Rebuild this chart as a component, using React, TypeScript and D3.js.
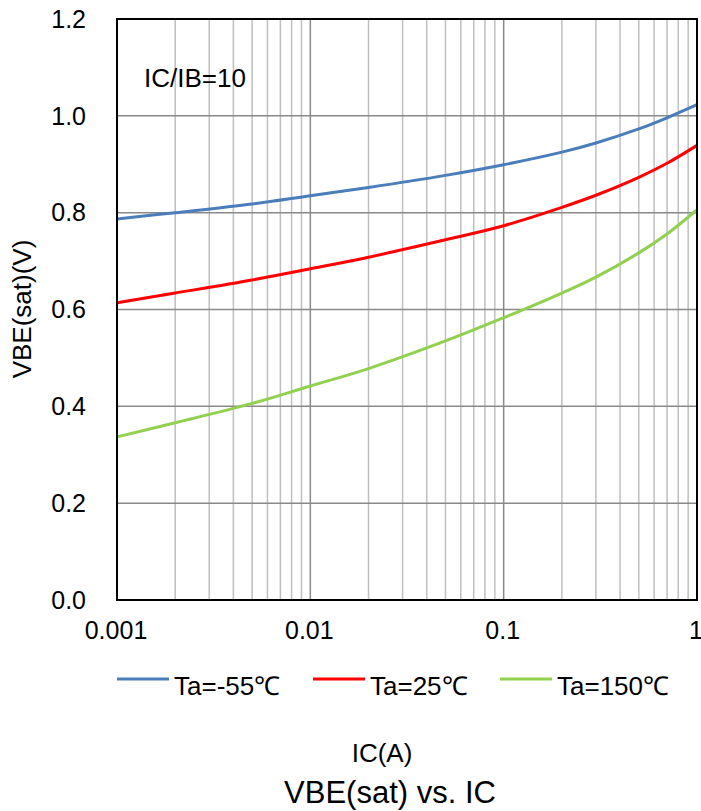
import { useEffect, useRef } from "react";
import * as d3 from "d3";

// IC (A) sample points and VBE(sat) (V)
const icValues = [0.001, 0.002, 0.005, 0.01, 0.02, 0.05, 0.1, 0.2, 0.3, 0.5, 0.7, 1];
const vbeM55 = [0.787, 0.800, 0.818, 0.835, 0.852, 0.877, 0.899, 0.925, 0.944, 0.973, 0.996, 1.023];
const vbe25 = [0.614, 0.634, 0.661, 0.684, 0.708, 0.744, 0.773, 0.811, 0.836, 0.873, 0.902, 0.939];
const vbe150 = [0.337, 0.366, 0.406, 0.442, 0.478, 0.535, 0.583, 0.634, 0.667, 0.717, 0.756, 0.806];

const seriesNames = ["Ta=-55℃", "Ta=25℃", "Ta=150℃"];
const seriesColors = ["#4a7ebb", "#ff0000", "#92d050"];
const yTicks = [0, 0.2, 0.4, 0.6, 0.8, 1.0, 1.2];
const xTicks = [0.001, 0.01, 0.1, 1];

export default function App() {
  const ref = useRef<SVGSVGElement | null>(null);
  const width = 701;
  const height = 811;
  const plot = { left: 117, right: 697, top: 19, bottom: 600 };

  useEffect(() => {
    const svg = d3.select(ref.current);
    svg.selectAll("*").remove();
    const font = "Arial, 'Liberation Sans', sans-serif";

    const x = d3.scaleLog().domain([0.001, 1]).range([plot.left, plot.right]);
    const y = d3.scaleLinear().domain([0, 1.2]).range([plot.bottom, plot.top]);

    svg.append("rect").attr("width", width).attr("height", height).attr("fill", "#fff");

    // minor vertical grid
    const minor: number[] = [];
    for (let d = 0.001; d < 1; d *= 10) {
      for (let k = 2; k <= 9; k++) minor.push(d * k);
    }
    svg.append("g").selectAll("line").data(minor).join("line")
      .attr("x1", (d) => x(d)).attr("x2", (d) => x(d))
      .attr("y1", plot.top).attr("y2", plot.bottom)
      .attr("stroke", "#bfbfbf").attr("stroke-width", 1.5);

    // major vertical grid
    svg.append("g").selectAll("line").data(xTicks.slice(1, -1)).join("line")
      .attr("x1", (d) => x(d)).attr("x2", (d) => x(d))
      .attr("y1", plot.top).attr("y2", plot.bottom)
      .attr("stroke", "#898989").attr("stroke-width", 1.5);

    // horizontal grid
    svg.append("g").selectAll("line").data(yTicks.slice(1, -1)).join("line")
      .attr("x1", plot.left).attr("x2", plot.right)
      .attr("y1", (d) => y(d)).attr("y2", (d) => y(d))
      .attr("stroke", "#898989").attr("stroke-width", 1.5);

    // curves
    const allSeries = [vbeM55, vbe25, vbe150];
    const line = d3.line<[number, number]>()
      .x((d) => x(d[0])).y((d) => y(d[1]))
      .curve(d3.curveCatmullRom.alpha(0.5));
    allSeries.forEach((vals, i) => {
      const pts = icValues.map((ic, j) => [ic, vals[j]] as [number, number]);
      svg.append("path").attr("d", line(pts) as string)
        .attr("fill", "none").attr("stroke", seriesColors[i]).attr("stroke-width", 3);
    });

    // frame
    svg.append("rect")
      .attr("x", plot.left).attr("y", plot.top)
      .attr("width", plot.right - plot.left).attr("height", plot.bottom - plot.top)
      .attr("fill", "none").attr("stroke", "#000").attr("stroke-width", 2);

    // y tick labels
    svg.append("g").selectAll("text").data(yTicks).join("text")
      .attr("x", 86).attr("y", (d) => y(d))
      .attr("dy", "0.35em").attr("text-anchor", "end")
      .attr("font-family", font).attr("font-size", 25).attr("fill", "#000")
      .text((d) => d3.format(".1f")(d));

    // x tick labels
    svg.append("g").selectAll("text").data(xTicks).join("text")
      .attr("x", (d) => x(d) - 1).attr("y", 639)
      .attr("text-anchor", "middle")
      .attr("font-family", font).attr("font-size", 25).attr("fill", "#000")
      .text((d) => String(d));

    // annotation
    svg.append("text").attr("x", 144).attr("y", 87)
      .attr("font-family", font).attr("font-size", 26).attr("fill", "#000")
      .text("IC/IB=10");

    // y axis title
    svg.append("text")
      .attr("transform", `translate(31,309) rotate(-90)`)
      .attr("text-anchor", "middle")
      .attr("font-family", font).attr("font-size", 26).attr("fill", "#000")
      .text("VBE(sat)(V)");

    // legend
    const legendX = [117, 313, 500];
    seriesNames.forEach((name, i) => {
      const g = svg.append("g").attr("transform", `translate(${legendX[i]},679)`);
      g.append("line").attr("x1", 0).attr("x2", 52).attr("y1", 0).attr("y2", 0)
        .attr("stroke", seriesColors[i]).attr("stroke-width", 3);
      g.append("text").attr("x", 57).attr("y", 16)
        .attr("font-family", font).attr("font-size", 26).attr("fill", "#000")
        .text(name);
    });

    // x axis title and chart title
    svg.append("text").attr("x", 382).attr("y", 762).attr("text-anchor", "middle")
      .attr("font-family", font).attr("font-size", 26).attr("fill", "#000")
      .text("IC(A)");
    svg.append("text").attr("x", 390).attr("y", 803).attr("text-anchor", "middle")
      .attr("font-family", font).attr("font-size", 31).attr("fill", "#000")
      .text("VBE(sat) vs. IC");
  }, []);

  return (
    <svg ref={ref} width={width} height={height}
      style={{ position: "absolute", left: 0, top: 0, display: "block" }} />
  );
}
